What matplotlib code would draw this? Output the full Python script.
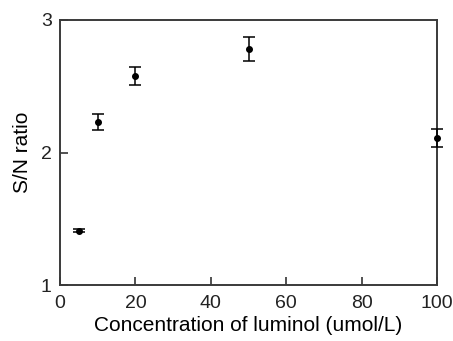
import matplotlib
matplotlib.use("Agg")
import matplotlib.pyplot as plt

conc = [5, 10, 20, 50, 100]
sn_ratio = [1.41, 2.23, 2.58, 2.78, 2.11]
sn_err = [0.01, 0.063, 0.068, 0.09, 0.069]

plt.rcParams["font.family"] = ["Liberation Sans", "DejaVu Sans"]

fig = plt.figure(figsize=(4.53, 3.41), dpi=100)
ax = fig.add_axes([60 / 453, 1 - 285 / 341, 377 / 453, 265 / 341])

ax.errorbar(conc, sn_ratio, yerr=sn_err, fmt="o", color="black",
            markersize=4, capsize=4, elinewidth=1.1, capthick=1.1,
            clip_on=False, zorder=5)

ax.set_xlim(0, 100)
ax.set_ylim(1, 3)
ax.set_xticks([0, 20, 40, 60, 80, 100])
ax.set_yticks([1, 2, 3])
ax.tick_params(direction="in", length=6, width=1.1, labelsize=14, colors="#222222")
ax.tick_params(axis="x", pad=7)
ax.tick_params(axis="y", pad=6)
for s in ax.spines.values():
    s.set_linewidth(1.4)
    s.set_color("#3a3a3a")
ax.set_xlabel("Concentration of luminol (umol/L)", fontsize=15, labelpad=3)
ax.set_ylabel("S/N ratio", fontsize=15, labelpad=6)

fig.savefig("out.png", dpi=100)
